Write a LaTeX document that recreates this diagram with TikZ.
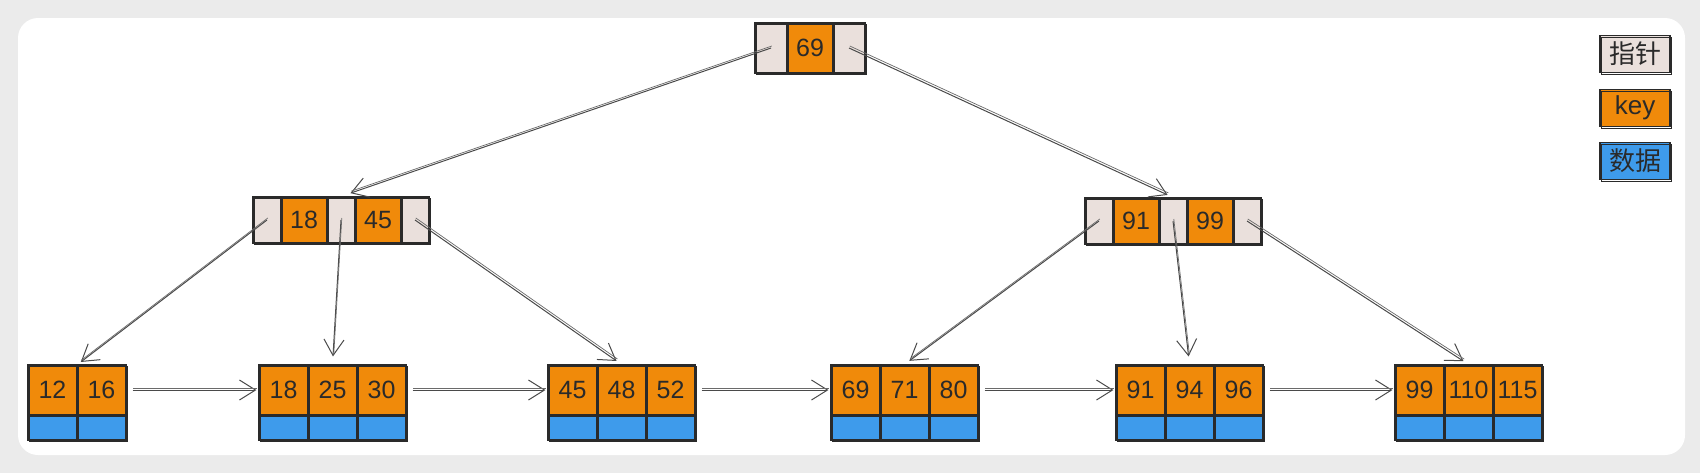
\documentclass[tikz,border=0pt]{standalone}
\usepackage{fontspec}
\setmainfont{Liberation Sans}
\newfontfamily\cjk{Noto Sans CJK SC}
\usetikzlibrary{arrows.meta}
\definecolor{ptr}{HTML}{EAE0DC}
\definecolor{keyc}{HTML}{F08A0A}
\definecolor{datc}{HTML}{3E9BEB}
\definecolor{ink}{HTML}{2A2A2A}
\definecolor{bg}{HTML}{EBEBEB}
\tikzset{
  cell/.style={draw=ink, line width=0.6pt, inner sep=0pt, text=ink, font=\fontsize{12.5}{14}\selectfont,
    postaction={draw=ink, line width=0.35pt, transform canvas={shift={(0.9pt,-0.7pt)}}}},
  ptrcell/.style={cell, fill=ptr, minimum width=14pt, minimum height=23pt},
  keycell/.style={cell, fill=keyc, minimum width=23pt, minimum height=23pt},
  rptr/.style={cell, fill=ptr, minimum width=16pt, minimum height=25pt},
  rkey/.style={cell, fill=keyc, minimum width=23pt, minimum height=25pt},
  leafkey/.style={cell, fill=keyc, minimum width=24.5pt, minimum height=25pt},
  leafdat/.style={cell, fill=datc, minimum width=24.5pt, minimum height=12.5pt},
  legend/.style={cell, minimum width=35pt, minimum height=18.5pt, font=\fontsize{13}{15}\selectfont},
  arr/.style={draw=ink!85, line width=0.5pt, -{Straight Barb[length=8pt,width=10pt]},
    postaction={draw=ink!70, line width=0.35pt, -, transform canvas={shift={(0.4pt,1pt)}}}},
}
\begin{document}
\begin{tikzpicture}[x=0.5pt,y=-0.5pt]
\fill[bg] (0,0) rectangle (1700,473);
\fill[white, rounded corners=10pt] (18,18) rectangle (1685,455);
\useasboundingbox (0,0) rectangle (1700,473);
% root
\node[rptr] (rp1) at (771,48) {};
\node[rkey] (rk1) at (810,48) {69};
\node[rptr] (rp2) at (849,48) {};
% level 2 left
\node[ptrcell] (ap1) at (267,220) {};
\node[keycell] (ak1) at (304,220) {18};
\node[ptrcell] (ap2) at (341,220) {};
\node[keycell] (ak2) at (378,220) {45};
\node[ptrcell] (ap3) at (415,220) {};
% level 2 right
\node[ptrcell] (bp1) at (1099,221) {};
\node[keycell] (bk1) at (1136,221) {91};
\node[ptrcell] (bp2) at (1173,221) {};
\node[keycell] (bk2) at (1210,221) {99};
\node[ptrcell] (bp3) at (1247,221) {};
% leaves
\foreach \n/\x/\keys in {1/28/{12,16}, 2/259/{18,25,30}, 3/548/{45,48,52}, 4/831/{69,71,80}, 5/1116/{91,94,96}, 6/1395/{99,110,115}}{
  \foreach \k [count=\j] in \keys {
    \node[leafkey] (l\n-\j) at ({\x+24.5+(\j-1)*49},390) {\k};
    \node[leafdat] (d\n-\j) at ({\x+24.5+(\j-1)*49},427.5) {};
  }
}
% legend
\node[legend, fill=ptr] (lg1) at (1635,54) {\cjk 指针};
\node[legend, fill=keyc] (lg2) at (1635,108) {key};
\node[legend, fill=datc] (lg3) at (1635,161) {\cjk 数据};
% tree arrows
\draw[arr, shorten >=5pt] (rp1.center) -- (ap2.north);
\draw[arr, shorten >=3pt] (rp2.center) -- (bp2.north);
\draw[arr, shorten >=2pt] (ap1.center) -- (l1-1.north east);
\draw[arr, shorten >=4pt] (ap2.center) -- (l2-2.north);
\draw[arr, shorten >=3pt] (ap3.center) -- (l3-2.north);
\draw[arr, shorten >=3pt] (bp1.center) -- (l4-2.north);
\draw[arr, shorten >=4pt] (bp2.center) -- (l5-2.north);
\draw[arr, shorten >=3pt] (bp3.center) -- (l6-2.north);
% leaf links
\draw[arr, shorten <=3pt, shorten >=1pt] (l1-2.east) -- (l2-1.west);
\draw[arr, shorten <=3pt, shorten >=1pt] (l2-3.east) -- (l3-1.west);
\draw[arr, shorten <=3pt, shorten >=1pt] (l3-3.east) -- (l4-1.west);
\draw[arr, shorten <=3pt, shorten >=1pt] (l4-3.east) -- (l5-1.west);
\draw[arr, shorten <=3pt, shorten >=1pt] (l5-3.east) -- (l6-1.west);
\end{tikzpicture}
\end{document}
